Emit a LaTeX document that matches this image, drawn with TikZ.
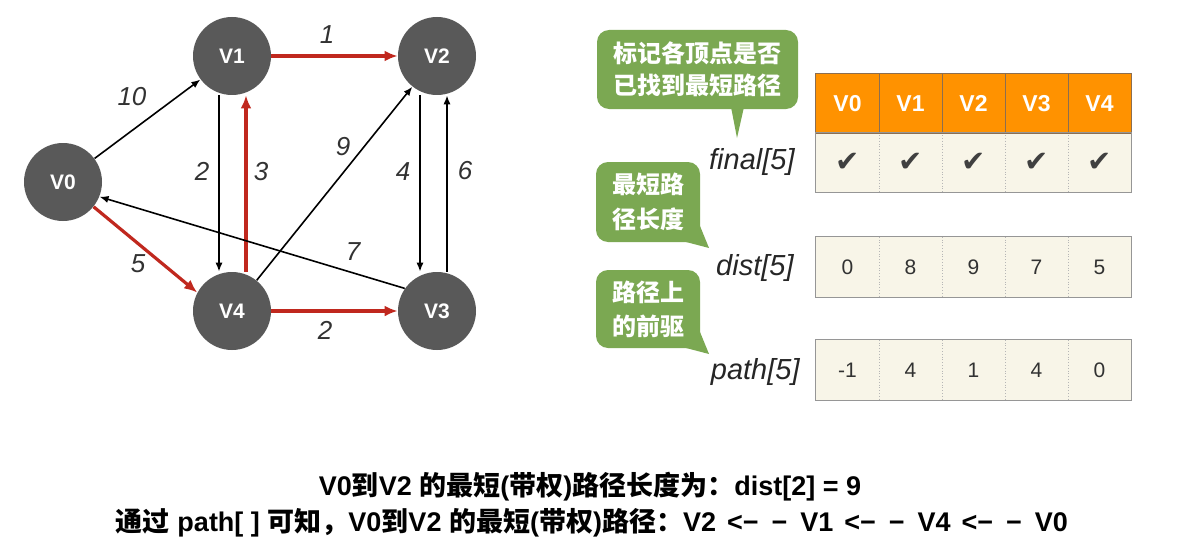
\documentclass[tikz,border=0pt]{standalone}
\usepackage{fontspec}
\setmainfont{Liberation Sans}
\newfontfamily\cjk{Noto Sans CJK SC}
\newfontfamily\dejavu{DejaVu Sans}
\usetikzlibrary{arrows.meta,calc}
\definecolor{nodegray}{RGB}{89,89,89}
\definecolor{edgered}{RGB}{192,40,30}
\definecolor{hdrorange}{RGB}{255,146,0}
\definecolor{hdrline}{RGB}{140,110,80}
\definecolor{cellcream}{RGB}{248,245,232}
\definecolor{cellline}{RGB}{150,150,150}
\definecolor{callgreen}{RGB}{123,168,82}
\definecolor{txtgray}{RGB}{50,50,50}
\definecolor{checkgray}{RGB}{64,64,64}
\newcommand\zh[1]{{\cjk #1}}
\newcommand\larrow{\hspace{5.5pt}<−\hspace{6.5pt}−\hspace{6.5pt}}
\begin{document}
\begin{tikzpicture}[x=0.5pt,y=-0.5pt,
  vertex/.style={circle,fill=nodegray,minimum size=39pt,inner sep=0pt,text=white,
    font=\fontsize{10.5}{12}\selectfont\bfseries},
  blackedge/.style={draw=black,line width=0.8pt,-{Latex[length=4.5pt,width=3.6pt]}},
  rededge/.style={draw=edgered,line width=1.6pt,-{Latex[length=6.5pt,width=5.5pt]}},
  weight/.style={text=txtgray,font=\fontsize{13}{15}\selectfont\itshape,inner sep=0pt},
  hdrcell/.style={rectangle,fill=hdrorange,minimum width=31.5pt,minimum height=29.5pt,inner sep=0pt,
    text=white,font=\fontsize{11.5}{13}\selectfont\bfseries},
  valcell/.style={rectangle,fill=cellcream,minimum width=31.5pt,minimum height=29.8pt,inner sep=0pt,
    text=txtgray,font=\fontsize{10.5}{12}\selectfont},
  arrlabel/.style={anchor=east,inner sep=0pt,text=black!85,font=\fontsize{14.5}{16}\selectfont\itshape},
  callbox/.style={rectangle,rounded corners=6pt,fill=callgreen,inner sep=0pt,align=center,
    text=white,font=\fontsize{12}{16}\selectfont\cjk\bfseries},
  bottomtext/.style={inner sep=0pt,font=\fontsize{13.5}{15}\selectfont\bfseries}
]
\useasboundingbox (0,0) rectangle (1186,556);

% graph
\node[vertex] (V0) at (63,182) {V0};
\node[vertex] (V1) at (232,56) {V1};
\node[vertex] (V2) at (437,56) {V2};
\node[vertex] (V4) at (232,311) {V4};
\node[vertex] (V3) at (437,311) {V3};

\draw[blackedge] (V0) -- (V1);
\draw[rededge] (V1) -- (V2);
\draw[blackedge] ([xshift=-6.5pt]V1.south) -- ([xshift=-6.5pt]V4.north);
\draw[rededge] ([xshift=7pt]V4.north) -- ([xshift=7pt]V1.south);
\draw[blackedge] (V4) -- (V2);
\draw[blackedge] ([xshift=-8.5pt]V2.south) -- ([xshift=-8.5pt]V3.north);
\draw[blackedge] ([xshift=5pt]V3.north) -- ([xshift=5pt]V2.south);
\draw[blackedge] (V3.145) -- (V0.-22);
\draw[rededge] (V0.-39) -- (V4.152);
\draw[rededge] (V4) -- (V3);

\node[weight] (w01) at (132,97) {10};
\node[weight] (w12) at (327,35) {1};
\node[weight] (w14) at (202,171) {2};
\node[weight] (w41) at (261,172) {3};
\node[weight] (w42) at (343,147) {9};
\node[weight] (w23) at (403,172) {4};
\node[weight] (w32) at (465,171) {6};
\node[weight] (w30) at (353,252) {7};
\node[weight] (w04) at (138,264) {5};
\node[weight] (w43) at (325,330) {2};

% table
\foreach \i/\x in {0/847.5,1/910.5,2/973.5,3/1036.5,4/1099.5}{
  \node[hdrcell] (h\i) at (\x,103.5) {V\i};
  \node[valcell] (f\i) at (\x,162.5) {\dejavu\fontsize{14.5}{16}\selectfont\textcolor{checkgray}{✔}};
}
\foreach \i/\x/\v in {0/847.5/0,1/910.5/8,2/973.5/9,3/1036.5/7,4/1099.5/5}{
  \node[valcell] (d\i) at (\x,267) {\v};
}
\foreach \i/\x/\v in {0/847.5/-1,1/910.5/4,2/973.5/1,3/1036.5/4,4/1099.5/0}{
  \node[valcell] (p\i) at (\x,370) {\v};
}
\foreach \i in {0,1,2,3}{
  \draw[hdrline,line width=0.6pt] (h\i.north east) -- (h\i.south east);
  \draw[cellline!70,line width=0.4pt,densely dotted] (f\i.north east) -- (f\i.south east);
  \draw[cellline!70,line width=0.4pt,densely dotted] (d\i.north east) -- (d\i.south east);
  \draw[cellline!70,line width=0.4pt,densely dotted] (p\i.north east) -- (p\i.south east);
}
\draw[hdrline,line width=0.6pt] (h0.north west) rectangle (h4.south east);
\draw[cellline,line width=0.6pt] (f0.north west) rectangle (f4.south east);
\draw[cellline,line width=0.6pt] (d0.north west) rectangle (d4.south east);
\draw[cellline,line width=0.6pt] (p0.north west) rectangle (p4.south east);

\node[arrlabel] (lf) at (795,162) {final[5]};
\node[arrlabel] (ld) at (794,268) {dist[5]};
\node[arrlabel] (lp) at (800,372) {path[5]};

% callouts
\node[callbox,minimum width=100.5pt,minimum height=39.5pt] (c1) at (697.5,69.5) {标记各顶点是否\\已找到最短路径};
\fill[callgreen] (731,107) -- (737,138) -- (744,107) -- cycle;
\node[callbox,minimum width=52pt,minimum height=40pt,font=\fontsize{12}{17.5}\selectfont\cjk\bfseries] (c2) at (648,202) {最短路\\径长度};
\fill[callgreen] (700,226) -- (709,248) -- (686,242) -- cycle;
\node[callbox,minimum width=52pt,minimum height=39pt,font=\fontsize{12}{17}\selectfont\cjk\bfseries] (c3) at (648,309) {路径上\\的前驱};
\fill[callgreen] (700,332) -- (709,354) -- (686,348) -- cycle;

% bottom text
\node[bottomtext] (t1) at (590,487) {V0\zh{到}V2 \zh{的最短}(\zh{带权})\zh{路径长度为：}dist[2] = 9};
\node[bottomtext] (t2) at (592,523) {\zh{通过} path[ ] \zh{可知，}V0\zh{到}V2 \zh{的最短}(\zh{带权})\zh{路径：}V2\larrow V1\larrow V4\larrow V0};
\end{tikzpicture}
\end{document}
